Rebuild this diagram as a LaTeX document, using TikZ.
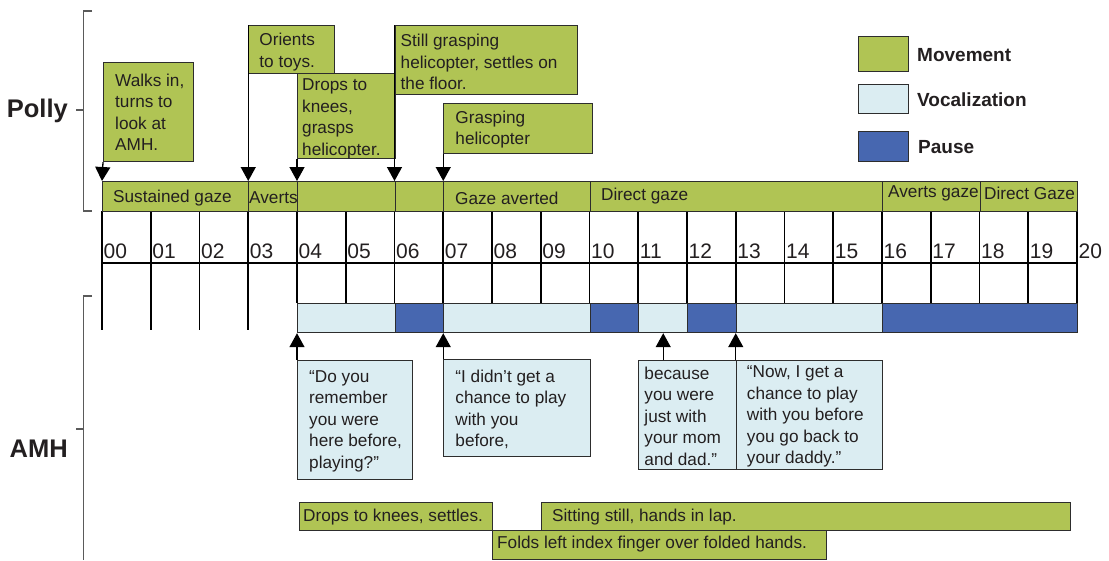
\documentclass[tikz,border=0pt]{standalone}
\usepackage{fontspec}
\setmainfont{Liberation Sans}
\usetikzlibrary{arrows.meta,calc}

\definecolor{mvgreen}{RGB}{176,196,84}
\definecolor{vocblue}{RGB}{219,237,242}
\definecolor{pausblue}{RGB}{71,103,176}
\definecolor{inkgray}{RGB}{35,31,32}
\definecolor{edgegray}{RGB}{45,45,45}
\definecolor{bracegray}{RGB}{90,90,90}

\newcommand{\bodyfont}{\fontsize{17.2}{21.5}\selectfont}
\newcommand{\numfont}{\fontsize{21}{24}\selectfont}
\newcommand{\keyfont}{\fontsize{19}{22}\selectfont\bfseries}
\newcommand{\whofont}{\fontsize{25.5}{28}\selectfont\bfseries}

\tikzset{
  box/.style={draw=edgegray, line width=1.2pt, inner sep=0pt, anchor=north west},
  mvbox/.style={box, fill=mvgreen},
  vcbox/.style={box, fill=vocblue},
  psbox/.style={box, fill=pausblue},
  txt/.style={font=\bodyfont, text=inkgray, align=left, anchor=west, inner sep=0pt},
  num/.style={font=\numfont, text=inkgray, anchor=west, inner sep=0pt},
  key/.style={font=\keyfont, text=inkgray, anchor=west, inner sep=0pt},
  who/.style={font=\whofont, text=inkgray, anchor=base east, inner sep=0pt},
  grid/.style={line width=1.8pt, black},
  arr/.style={line width=1.3pt, black, -{Triangle[width=15pt,length=14pt]}},
  brace/.style={line width=1.3pt, bracegray},
}

\begin{document}
\begin{tikzpicture}[x=1pt,y=-1pt]
\useasboundingbox (0,0) rectangle (1109,560);

% time axis: one second every 48.75pt
\foreach \i in {0,...,20} {
  \coordinate (t\i) at ({102+48.75*\i},0);
}

% grid below the Polly bar
\foreach \i in {0,...,3}
  \draw[grid] (t\i |- 0,211) -- (t\i |- 0,330);
\foreach \i in {4,...,20}
  \draw[grid] (t\i |- 0,211) -- (t\i |- 0,303);
\draw[grid] (t0 |- 0,263) -- (t20 |- 0,263);

% second labels
\foreach \i in {0,...,20} {
  \node[num] (n\i) at ($(t\i |- 0,251.5)+(1.5,0)$) {\ifnum\i<10 0\fi\i};
}

% Polly: gaze / movement bar
\node[mvbox, minimum width=146.25pt, minimum height=30pt] (pg0)  at (t0  |- 0,181) {};
\node[mvbox, minimum width=48.75pt,  minimum height=30pt] (pg3)  at (t3  |- 0,181) {};
\node[mvbox, minimum width=97.5pt,   minimum height=30pt] (pg4)  at (t4  |- 0,181) {};
\node[mvbox, minimum width=48.75pt,  minimum height=30pt] (pg6)  at (t6  |- 0,181) {};
\node[mvbox, minimum width=146.25pt, minimum height=30pt] (pg7)  at (t7  |- 0,181) {};
\node[mvbox, minimum width=292.5pt,  minimum height=30pt] (pg10) at (t10 |- 0,181) {};
\node[mvbox, minimum width=97.5pt,   minimum height=30pt] (pg16) at (t16 |- 0,181) {};
\node[mvbox, minimum width=97.5pt,   minimum height=30pt] (pg18) at (t18 |- 0,181) {};

\node[txt] (pg0t)  at (113,198) {Sustained gaze};
\node[txt] (pg3t)  at (249,198) {Averts};
\node[txt] (pg7t)  at (455,198) {Gaze averted};
\node[txt] (pg10t) at (601,196) {Direct gaze};
\node[txt] (pg16t) at (888,193.5) {Averts gaze};
\node[txt] (pg18t) at (984,193.5) {Direct Gaze};

% AMH: vocalization / pause bar
\node[vcbox, minimum width=97.5pt,   minimum height=29pt] (v4)  at (t4  |- 0,303) {};
\node[psbox, minimum width=48.75pt,  minimum height=29pt] (v6)  at (t6  |- 0,303) {};
\node[vcbox, minimum width=146.25pt, minimum height=29pt] (v7)  at (t7  |- 0,303) {};
\node[psbox, minimum width=48.75pt,  minimum height=29pt] (v10) at (t10 |- 0,303) {};
\node[vcbox, minimum width=48.75pt,  minimum height=29pt] (v11) at (t11 |- 0,303) {};
\node[psbox, minimum width=48.75pt,  minimum height=29pt] (v12) at (t12 |- 0,303) {};
\node[vcbox, minimum width=146.25pt, minimum height=29pt] (v13) at (t13 |- 0,303) {};
\node[psbox, minimum width=195pt,    minimum height=29pt] (v16) at (t16 |- 0,303) {};

% Polly's movements
\node[mvbox, minimum width=90pt,  minimum height=99pt] (walk)   at (103,62) {};
\node[txt] (walkt) at ($(walk.west)+(12,0)$) {Walks in,\\turns to\\look at\\AMH.};

\node[mvbox, minimum width=86pt,  minimum height=48pt] (orient) at (248.25,25) {};
\node[txt] (orientt) at ($(orient.west)+(11,2.5)$) {Orients\\to toys.};

\node[mvbox, minimum width=97.5pt, minimum height=85pt] (drops) at (297,73) {};
\node[txt] (dropst) at ($(drops.west)+(5,3)$) {Drops to\\knees,\\grasps\\helicopter.};

\node[mvbox, minimum width=182pt, minimum height=69pt] (still) at (394.5,25) {};
\node[txt] (stillt) at ($(still.west)+(6,2)$) {Still grasping\\helicopter, settles on\\the floor.};

\node[mvbox, minimum width=149pt, minimum height=50pt] (grasp) at (443.25,103) {};
\node[txt] (graspt) at ($(grasp.west)+(12,1)$) {Grasping\\helicopter};

\draw[arr] (walk.south west)   -- (pg0.north west);
\draw[arr] (orient.north west) -- (pg3.north west);
\draw[arr] (drops.south west)  -- (pg4.north west);
\draw[arr] (still.north west)  -- (pg6.north west);
\draw[arr] (grasp.south west)  -- (pg7.north west);

% AMH's words
\node[vcbox, minimum width=115pt, minimum height=119pt] (remember) at (297,360) {};
\node[txt] (remembert) at ($(remember.west)+(12,1)$) {“Do you\\remember\\you were\\here before,\\playing?”};

\node[vcbox, minimum width=146.25pt, minimum height=97pt] (chance) at (443.25,359) {};
\node[txt] (chancet) at ($(chance.west)+(12,1.5)$) {“I didn’t get a\\chance to play\\with you\\before,};

\node[vcbox, minimum width=97.5pt, minimum height=109pt] (because) at (638.25,360) {};
\node[txt] (becauset) at ($(because.west)+(6,1)$) {because\\you were\\just with\\your mom\\and dad.”};

\node[vcbox, minimum width=146.25pt, minimum height=109pt] (now) at (735.75,360) {};
\node[txt] (nowt) at ($(now.west)+(11,1.5)$) {“Now, I get a\\chance to play\\with you before\\you go back to\\your daddy.”};

\draw[arr] (remember.north west) -- (v4.south west);
\draw[arr] (chance.north west)   -- (v7.south west);
\draw[arr] (v11.south |- because.north) -- (v11.south);
\draw[arr] (now.north west)      -- (v13.south west);

% AMH's movements
\node[mvbox, minimum width=193pt, minimum height=28pt] (settle) at (299,502) {};
\node[txt] (settlet) at ($(settle.west)+(4,0)$) {Drops to knees, settles.};

\node[mvbox, minimum width=529pt, minimum height=28pt] (sitting) at (541,502) {};
\node[txt] (sittingt) at ($(sitting.west)+(11,0)$) {Sitting still, hands in lap.};

\node[mvbox, minimum width=334pt, minimum height=29pt] (folds) at (492,530) {};
\node[txt] (foldst) at ($(folds.west)+(5,-1)$) {Folds left index finger over folded hands.};

% participant brackets
\draw[brace] (92,11) -- (83.5,11) -- (83.5,211) -- (92,211);
\draw[brace] (76,110) -- (83.5,110);
\node[who] (polly) at (68,117) {Polly};

\draw[brace] (92,296) -- (83.5,296) -- (83.5,560);
\draw[brace] (76,429) -- (83.5,429);
\node[who] (amh) at (68,457) {AMH};

% legend
\node[mvbox, minimum width=50pt, minimum height=35pt] (kmove)  at (858,36) {};
\node[vcbox, minimum width=50pt, minimum height=29pt] (kvoc)   at (858,84) {};
\node[psbox, minimum width=50pt, minimum height=30pt] (kpause) at (858,131) {};
\node[key] (kmovet)  at (917,55)  {Movement};
\node[key] (kvoct)   at (917,100) {Vocalization};
\node[key] (kpauset) at (918,147) {Pause};
\end{tikzpicture}
\end{document}
